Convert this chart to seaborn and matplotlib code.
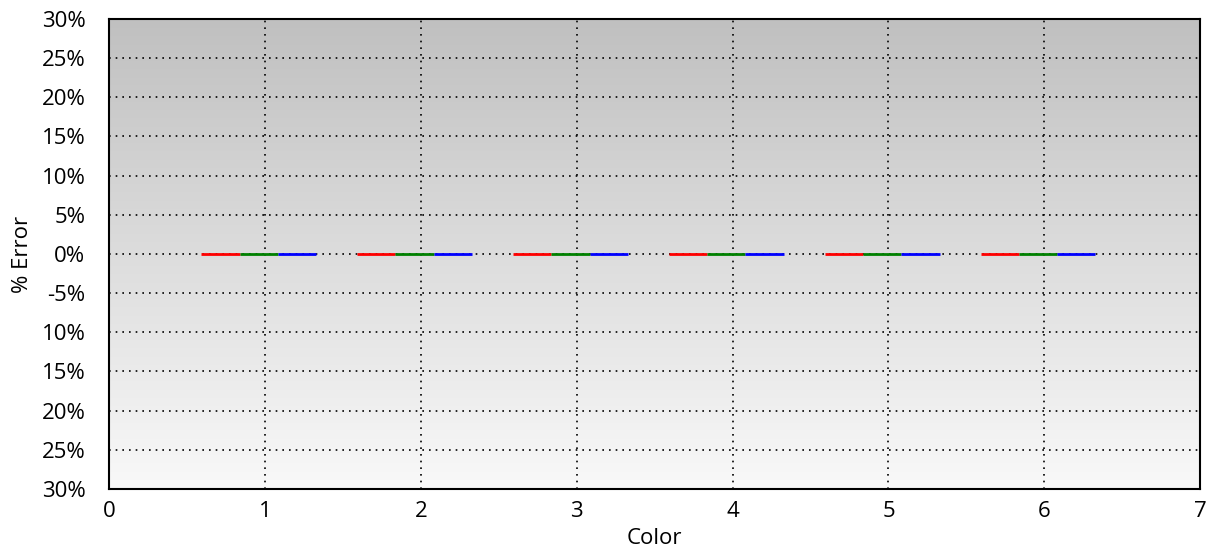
import numpy as np
import pandas as pd
import matplotlib
matplotlib.use("Agg")
import matplotlib.pyplot as plt
import seaborn as sns
from matplotlib.colors import LinearSegmentedColormap

colors_idx = [1, 2, 3, 4, 5, 6]
red_err = [0, 0, 0, 0, 0, 0]
green_err = [0, 0, 0, 0, 0, 0]
blue_err = [0, 0, 0, 0, 0, 0]
channels = ["R", "G", "B"]
channel_colors = ["#ff0000", "#008000", "#0000ff"]
y_ticks = [30, 25, 20, 15, 10, 5, 0, -5, -10, -15, -20, -25, -30]
y_labels = ["30%", "25%", "20%", "15%", "10%", "5%", "0%", "-5%", "10%", "15%", "20%", "25%", "30%"]
x_ticks = [0, 1, 2, 3, 4, 5, 6, 7]

rows = []
for ch, vals in zip(channels, [red_err, green_err, blue_err]):
    for c, v in zip(colors_idx, vals):
        rows.append({"Color": c, "Error": v, "Channel": ch})
df = pd.DataFrame(rows)

sns.set_style("white")
plt.rcParams['font.family'] = ['Open Sans', 'DejaVu Sans']
plt.rcParams['text.color'] = 'black'
plt.rcParams['axes.labelcolor'] = 'black'

fig = plt.figure(figsize=(12.08, 5.49), dpi=100)
ax = fig.add_axes([0.0902, 0.1093, 0.9034, 0.8561])

# gradient background
grad = np.linspace(0, 1, 256).reshape(-1, 1)
cmap = LinearSegmentedColormap.from_list("bg", ["#f9f9f9", "#c0c0c0"])
ax.imshow(grad, extent=[0, 7, -30, 30], origin="lower", aspect="auto", cmap=cmap, zorder=0)

sns.barplot(data=df, x="Color", y="Error", hue="Channel", palette=channel_colors,
            native_scale=True, width=0.735, ax=ax, legend=False, errorbar=None,
            linewidth=2, zorder=3)
for patch, col in zip(ax.patches, np.repeat(channel_colors, 6)):
    patch.set_edgecolor(col)
    patch.set_x(patch.get_x() - 0.04)

ax.set_xlim(0, 7)
ax.set_ylim(-30, 30)
ax.set_xticks(x_ticks)
ax.set_xticklabels([str(t) for t in x_ticks])
ax.set_yticks(y_ticks)
ax.set_yticklabels(y_labels)
ax.grid(True, color="black", linestyle=(0, (1, 3)), linewidth=1.2)
ax.set_axisbelow(False)
for gl in ax.get_xgridlines() + ax.get_ygridlines():
    gl.set_zorder(1)
ax.tick_params(axis="both", direction="in", length=5, width=1.5, labelsize=16, colors="black")
ax.tick_params(axis="y", pad=17)
ax.tick_params(axis="x", length=0, pad=9)
for s in ax.spines.values():
    s.set_color("black")
    s.set_linewidth(1.5)
ax.set_xlabel("Color", fontsize=16, labelpad=4, color="black")
ax.set_ylabel("% Error", fontsize=16, labelpad=6, color="black")

fig.savefig("out.png", dpi=100)
